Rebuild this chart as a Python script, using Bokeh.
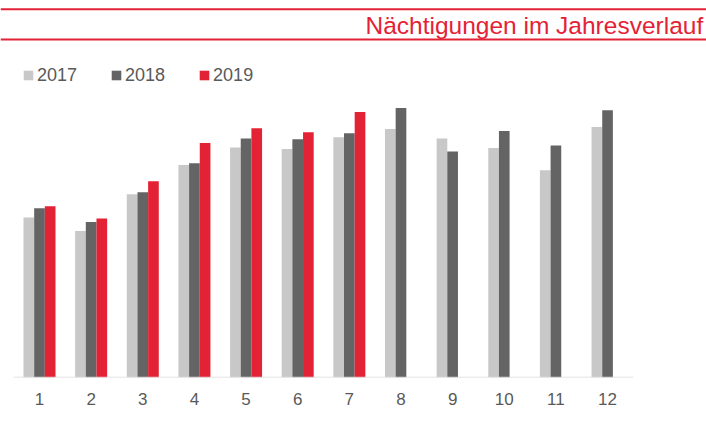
from bokeh.plotting import figure
from bokeh.models import Range1d, FixedTicker, Span, Label, Legend, LegendItem
from bokeh.embed import file_html
from bokeh.resources import INLINE

# ---- data (relative values) ----
months = [1, 2, 3, 4, 5, 6, 7, 8, 9, 10, 11, 12]
tick_labels = ["1", "2", "3", "4", "5", "6", "7", "8", "9", "10", "11", "12"]
series_names = ["2017", "2018", "2019"]
v2017 = [160.0, 146.6, 183.3, 212.6, 230.0, 228.6, 240.3, 248.6, 239.0, 229.6, 207.3, 250.6]
v2018 = [169.3, 155.6, 185.3, 214.3, 239.0, 238.3, 244.3, 269.6, 226.0, 246.6, 232.0, 267.3]
v2019 = [171.3, 159.0, 196.3, 234.6, 249.3, 245.3, 265.6]
title_text = "Nächtigungen im Jahresverlauf"

# ---- style ----
C17 = "#c8c8c8"
C18 = "#646464"
C19 = "#e42236"
RED = "#e42236"
TXT = "#595959"
FONT = "Liberation Sans"

W, H = 706, 421
p = figure(width=W, height=H, output_backend="svg", toolbar_location=None,
           x_range=Range1d(0.2448, 13.916), y_range=Range1d(0, 377),
           y_axis_location=None, x_axis_location="below",
           min_border_left=0, min_border_right=0, min_border_top=0,
           min_border_bottom=44)
p.outline_line_color = None
p.grid.visible = False
p.background_fill_color = "white"
p.border_fill_color = "white"

bw = 0.2066
r17 = p.vbar(x=[m - bw for m in months], top=v2017, bottom=0, width=bw,
             fill_color=C17, line_color=None)
r18 = p.vbar(x=[m for m in months], top=v2018, bottom=0, width=bw,
             fill_color=C18, line_color=None)
r19 = p.vbar(x=[m + bw for m in months[:len(v2019)]], top=v2019, bottom=0, width=bw,
             fill_color=C19, line_color=None)

# baseline under the categories
p.segment(x0=[months[0] - 0.5], x1=[months[-1] + 0.5], y0=[0], y1=[0],
          line_color="#d9d9d9", line_width=1.5)

ax = p.xaxis[0]
ax.ticker = FixedTicker(ticks=months)
ax.major_label_overrides = {m: t for m, t in zip(months, tick_labels)}
ax.axis_line_color = None
ax.major_tick_line_color = None
ax.minor_tick_line_color = None
ax.major_tick_out = 0
ax.major_tick_in = 0
ax.major_label_standoff = 15
ax.major_label_text_font = FONT
ax.major_label_text_font_size = "17px"
ax.major_label_text_color = TXT

# header lines and title
p.add_layout(Span(location=368.3, dimension="width", line_color=RED, line_width=2))
p.add_layout(Span(location=338, dimension="width", line_color=RED, line_width=2))
p.add_layout(Label(x=13.852, y=351.6, text=title_text, text_align="right",
                   text_baseline="alphabetic", text_font=FONT,
                   text_font_size="24.5px", text_color=RED))

legend = Legend(items=[LegendItem(label=series_names[0], renderers=[r17]),
                       LegendItem(label=series_names[1], renderers=[r18]),
                       LegendItem(label=series_names[2], renderers=[r19])],
                orientation="horizontal", location=(22, 291.5), margin=0, padding=0,
                spacing=33, glyph_width=12, glyph_height=12, label_standoff=3,
                border_line_color=None, background_fill_alpha=0,
                label_text_font=FONT, label_text_font_size="18px",
                label_text_color=TXT)
p.add_layout(legend)

open("out.html", "w").write(file_html(p, INLINE))
